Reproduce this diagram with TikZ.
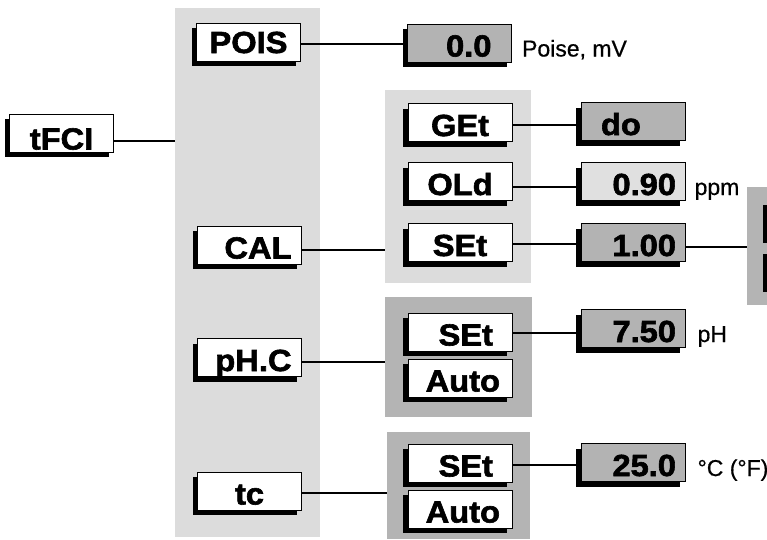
\documentclass[tikz,border=0pt]{standalone}
\usepackage{fontspec}
\usetikzlibrary{positioning,shadows}
\newfontfamily\keyfont{Liberation Sans Bold}[FakeStretch=1.07,FakeBold=2]
\newfontfamily\unitfont{Liberation Sans}[FakeBold=0.6]
\definecolor{panellight}{RGB}{220,220,220}
\definecolor{paneldark}{RGB}{180,180,180}
\definecolor{valuedark}{RGB}{179,179,179}
\definecolor{valuelight}{RGB}{224,224,224}

\begin{document}
\begin{tikzpicture}[x=1pt,y=-1pt,
 panel/.style={fill=#1,inner sep=0pt},
 keybox/.style={draw,line width=.8pt,fill=white,minimum width=104pt,minimum height=38pt,
  inner sep=0pt,text height=27pt,text depth=0pt,
  font={\keyfont\fontsize{30.5}{31}\selectfont},
  drop shadow={shadow xshift=-5pt,shadow yshift=-5pt,fill=black,opacity=1}},
 valbox/.style={keybox,fill=valuedark},
 padr/.style={text width=#1,align=right},
 padl/.style={text width=#1,align=left},
 unit/.style={inner sep=0pt,font={\unitfont\fontsize{23}{25}\selectfont}},
 link/.style={line width=2.8pt}]
% Menu tFCI: kolumna glowna, podmenu i wartosci.
\useasboundingbox (0,0) rectangle (767,539);
\clip (0,0) rectangle (767,539);
\node[panel=panellight,minimum width=145pt,minimum height=529pt] (menucol) at (247.5,272.5) {};
\node[panel=panellight,minimum width=146pt,minimum height=193pt] (calpanel) at (458,186.5) {};
\node[panel=paneldark,minimum width=147pt,minimum height=120pt] (phpanel) at (458.5,357) {};
\node[panel=paneldark,minimum width=143pt,minimum height=107pt] (tcpanel) at (458.5,485.5) {};
\node[panel=paneldark,minimum width=60pt,minimum height=118pt] (nextpanel) at (777,246) {};
% glowne klawisze
\node[keybox,text height=33pt] (tfci) at (61.5,133) {tFCI};
\node[keybox,text height=22pt] (pois) at (248.5,42) {POIS};
\node[keybox,padr=84pt] (cal) at (249.5,245) {CAL};
\node[keybox,padr=84pt] (phc) at (249.5,357.5) {pH.C};
\node[keybox] (tc) at (249.5,491) {tc};
% podmenu
\node[keybox] (get) at (460,122.5) {GEt};
\node[keybox] (old) at (460,181.5) {OLd};
\node[keybox] (calset) at (460,242.5) {SEt};
\node[keybox,padr=66pt] (phset) at (460,332) {SEt};
\node[keybox,padr=80pt] (phauto) at (460,378) {Auto};
\node[keybox,padr=66pt] (tcset) at (460,463) {SEt};
\node[keybox,padr=80pt] (tcauto) at (460,509) {Auto};
% wartosci
\node[valbox,padr=64pt] (vpois) at (459.5,43) {0.0};
\node[valbox,padl=64pt] (vget) at (633,121.5) {do};
\node[valbox,fill=valuelight,padr=86pt] (vold) at (633,181.5) {0.90};
\node[valbox,padr=86pt] (vset) at (633,242.5) {1.00};
\node[valbox,padr=86pt] (vph) at (633,328.5) {7.50};
\node[valbox,padr=86pt] (vtc) at (633,462.5) {25.0};
\node[keybox] (nexta) at (820,219) {};
\node[keybox] (nextb) at (820,268) {};
% jednostki
\node[unit,right=10pt of vpois.base east,anchor=base west] (upois) {Poise, mV};
\node[unit,right=9pt of vold.base east,anchor=base west] (uold) {ppm};
\node[unit,right=12pt of vph.base east,anchor=base west] (uph) {pH};
\node[unit,right=12pt of vtc.base east,anchor=base west] (utc) {°C (°F)};
% polaczenia
\draw[link] ([yshift=-8pt]tfci.east) coordinate (l1) -- (l1 -| menucol.west);
\draw[link] ([yshift=-2pt]pois.east) coordinate (l2) -- (l2 -| vpois.west);
\draw[link] ([yshift=-5pt]cal.east) coordinate (l3) -- (l3 -| calpanel.west);
\draw[link] ([yshift=-4.5pt]phc.east) coordinate (l4) -- (l4 -| phpanel.west);
\draw[link] ([yshift=-2pt]tc.east) coordinate (l5) -- (l5 -| tcpanel.west);
\draw[link] ([yshift=-2.5pt]get.east) coordinate (l6) -- (l6 -| vget.west);
\draw[link] ([yshift=-5.5pt]old.east) coordinate (l7) -- (l7 -| vold.west);
\draw[link] ([yshift=-1.5pt]calset.east) coordinate (l8) -- (l8 -| vset.west);
\draw[link] ([yshift=-4.5pt]vset.east) coordinate (l9) -- (l9 -| nextpanel.west);
\draw[link] ([yshift=-1pt]phset.east) coordinate (l10) -- (l10 -| vph.west);
\draw[link] ([yshift=-2pt]tcset.east) coordinate (l11) -- (l11 -| vtc.west);
\end{tikzpicture}
\end{document}
